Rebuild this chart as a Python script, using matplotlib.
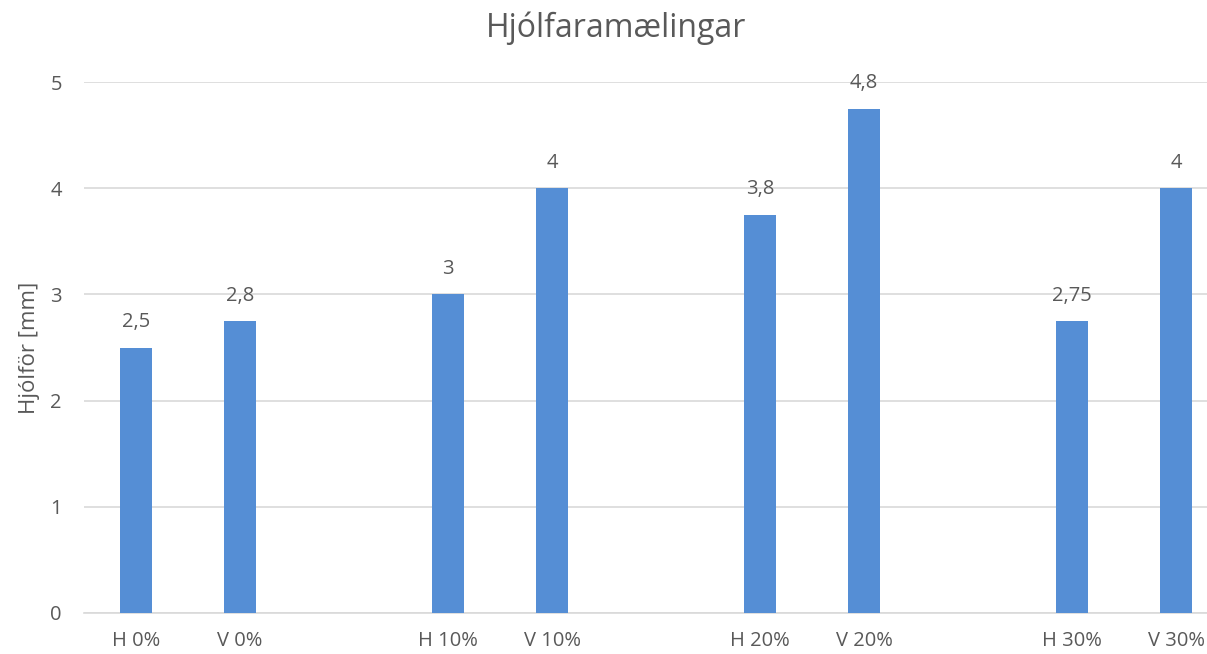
import numpy as np
import matplotlib
matplotlib.use('Agg')
import matplotlib.pyplot as plt

plt.rcParams['font.family'] = ['Open Sans', 'DejaVu Sans']

categories = ['H 0%', 'V 0%', '', 'H 10%', 'V 10%', '', 'H 20%', 'V 20%', '', 'H 30%', 'V 30%']
values = [2.5, 2.75, np.nan, 3, 4, np.nan, 3.75, 4.75, np.nan, 2.75, 4]
labels = ['2,5', '2,8', '', '3', '4', '', '3,8', '4,8', '', '2,75', '4']

grey = '#595959'
W, H = 1207, 654
fig = plt.figure(figsize=(W / 100, H / 100), dpi=100)
# plot area runs past the right edge, as in the original (cropped) chart
ax = fig.add_axes([84 / W, 41 / H, 1144 / W, 531 / H])

x = np.arange(len(categories))
ax.bar(x, values, width=0.31, color='#558ED5', zorder=3)
for xi, v, lab in zip(x, values, labels):
    if lab:
        ax.annotate(lab, (xi, v), xytext=(0, 11), textcoords='offset points',
                    ha='center', va='bottom', fontsize=14.5, color=grey)

ax.set_xlim(-0.5, len(categories) - 0.5)
ax.set_ylim(0, 5)
ax.set_yticks(range(6))
ax.set_xticks(x)
ax.set_xticklabels(categories)
ax.tick_params(length=0, labelsize=14.5, labelcolor=grey)
ax.tick_params(axis='x', pad=13)
ax.tick_params(axis='y', pad=16)
ax.grid(axis='y', color='#d9d9d9', linewidth=1.2, zorder=0)
for s in ['top', 'right', 'left']:
    ax.spines[s].set_visible(False)
ax.spines['bottom'].set_color('#d9d9d9')
ax.spines['bottom'].set_linewidth(1.2)

ax.set_ylabel('Hjólför [mm]', fontsize=16, color=grey, labelpad=7)
fig.text(616 / W, 1 - 28 / H, 'Hjólfaramælingar', ha='center', va='center',
         fontsize=23, color=grey)

fig.savefig('out.png', dpi=100)
